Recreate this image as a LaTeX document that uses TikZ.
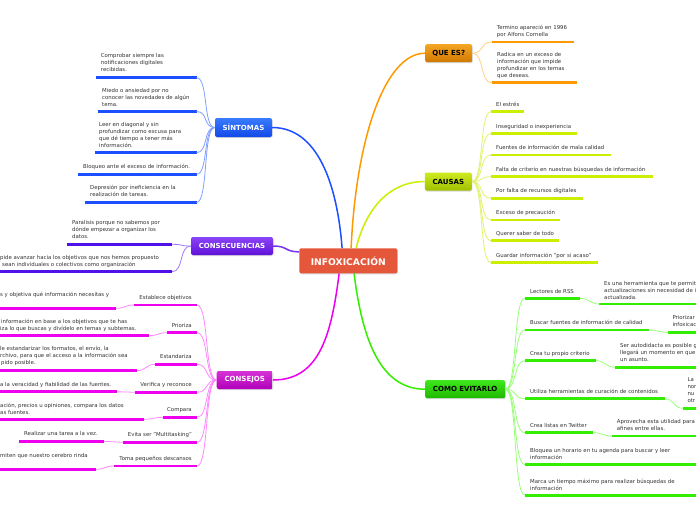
\documentclass[tikz,border=0pt]{standalone}
\usepackage{fontspec}
\setmainfont{DejaVu Sans}
\usetikzlibrary{calc,shadows}
\definecolor{txt}{HTML}{333333}
\definecolor{cC}{HTML}{E5573B}
\definecolor{oT}{HTML}{F5A623}\definecolor{oB}{HTML}{D07800}
\definecolor{yT}{HTML}{CFEA20}\definecolor{yB}{HTML}{A0C000}
\definecolor{gT}{HTML}{3EE81E}\definecolor{gB}{HTML}{1FB800}
\definecolor{bT}{HTML}{3A7BFF}\definecolor{bB}{HTML}{1148E8}
\definecolor{pT}{HTML}{8A45F7}\definecolor{pB}{HTML}{6010D8}
\definecolor{mT}{HTML}{D633D6}\definecolor{mB}{HTML}{B000B8}
\definecolor{lO}{HTML}{FF9900}\definecolor{lY}{HTML}{CCEE00}
\definecolor{lG}{HTML}{33EE00}\definecolor{lB}{HTML}{1C4FFF}
\definecolor{lP}{HTML}{5010E8}\definecolor{lM}{HTML}{EE00EE}
\definecolor{sO}{HTML}{FFD080}\definecolor{sY}{HTML}{E2F270}
\definecolor{sG}{HTML}{99FF77}\definecolor{sB}{HTML}{7FA0FF}
\definecolor{sP}{HTML}{A07AFF}\definecolor{sM}{HTML}{FF88FF}
\definecolor{cP}{HTML}{7733EE}
\tikzset{
  leaftext/.style={inner sep=0pt, align=left, text depth=0pt, font=\fontsize{5.4}{7}\selectfont, text=txt},
  mainbox/.style={rounded corners=2pt, inner sep=0pt, minimum height=18pt, font=\bfseries\fontsize{7}{8}\selectfont, drop shadow={opacity=0.3, shadow xshift=0.6pt, shadow yshift=-1pt}},
  ulO/.style={line width=2.5pt, draw=lO}, ulY/.style={line width=2.5pt, draw=lY},
  ulG/.style={line width=2.5pt, draw=lG}, ulB/.style={line width=2.5pt, draw=lB},
  ulP/.style={line width=2.5pt, draw=lP}, ulM/.style={line width=2.5pt, draw=lM},
  subO/.style={draw=sO, line width=0.8pt}, subY/.style={draw=sY, line width=0.8pt},
  subG/.style={draw=sG, line width=0.8pt}, subB/.style={draw=sB, line width=0.8pt},
  subP/.style={draw=sP, line width=0.8pt}, subM/.style={draw=sM, line width=0.8pt},
  branch/.style={line width=1.5pt}
}
% name, xl, xr, y, style, textx, dy, text
\newcommand{\lf}[8]{%
  \coordinate (#1-l) at (#2,#4);
  \coordinate (#1-r) at (#3,#4);
  \draw[#5] (#1-l) -- (#1-r);
  \node[leaftext, anchor=south west] (#1) at (#6,#4-#7) {#8};
}
% right-aligned label: name, xl, xr, y, style, textright, dy, text
\newcommand{\lfr}[8]{%
  \coordinate (#1-l) at (#2,#4);
  \coordinate (#1-r) at (#3,#4);
  \draw[#5] (#1-l) -- (#1-r);
  \node[leaftext, anchor=south east] (#1) at (#6,#4-#7) {#8};
}
\begin{document}
\begin{tikzpicture}[x=1pt,y=-1pt]
\useasboundingbox (0,0) rectangle (696,520);
\fill[white] (0,0) rectangle (696,520);
\clip (0,0) rectangle (696,520);

% main nodes
\node[mainbox, fill=cC, text=white, minimum width=98pt, minimum height=25pt, font=\bfseries\fontsize{9.2}{10}\selectfont] (c) at (348.3,260.8) {INFOXICACIÓN};
\node[mainbox, top color=oT, bottom color=oB, text=black, minimum width=47pt] (que) at (448.7,53.2) {QUE ES?};
\node[mainbox, top color=yT, bottom color=yB, text=black, minimum width=47pt] (causas) at (448.3,181.5) {CAUSAS};
\node[mainbox, top color=gT, bottom color=gB, text=black, minimum width=80pt] (evit) at (465.2,389.2) {COMO EVITARLO};
\node[mainbox, top color=bT, bottom color=bB, text=white, minimum width=57pt, minimum height=19pt] (sint) at (243.5,127.5) {SÍNTOMAS};
\node[mainbox, top color=pT, bottom color=pB, text=white, minimum width=82pt] (consec) at (232,246) {CONSECUENCIAS};
\node[mainbox, top color=mT, bottom color=mB, text=white, minimum width=56pt] (consejos) at (244.7,380) {CONSEJOS};

% main branches
\draw[branch, draw=lB] ($(c.north west)+(43,0)$) .. controls +(-5,-65) and +(45,0) .. (sint.east);
\draw[branch, draw=lO] ($(c.north west)+(52,0)$) .. controls +(5,-110) and +(-40,0) .. (que.west);
\draw[branch, draw=lY] ($(c.north west)+(57,0)$) .. controls +(10,-40) and +(-35,0) .. (causas.west);
\draw[branch, draw=lG] ($(c.south west)+(55,0)$) .. controls +(8,65) and +(-45,0) .. (evit.west);
\draw[branch, draw=lM] ($(c.south west)+(40,0)$) .. controls +(-8,65) and +(45,0) .. (consejos.east);
\draw[branch, draw=cP] ($(c.west)+(0,-9)$) .. controls +(-15,0) and +(15,0) .. (consec.east);

% SINTOMAS
\lf{s1}{96}{196.5}{77.7}{ulB}{100.7}{5.8}{Comprobar siempre las\\notificaciones digitales\\recibidas.}
\lf{s2}{97.5}{196.5}{111.5}{ulB}{102}{5.3}{Miedo o ansiedad por no\\conocer las novedades de algún\\tema.}
\lf{s3}{95}{196.5}{152.7}{ulB}{99}{4.8}{Leer en diagonal y sin\\profundizar como excusa para\\que dé tiempo a tener más\\información.}
\lf{s4}{77.5}{196.5}{174.3}{ulB}{83}{5.3}{Bloqueo ante el exceso de información.}
\lf{s5}{85}{196.5}{202.5}{ulB}{90}{5.8}{Depresión por ineficiencia en la\\realización de tareas.}
\foreach \n in {s1,s2,s3,s4,s5} \draw[subB] (sint.west) .. controls +(-12,0) and +(12,0) .. (\n-r);

% CONSECUENCIAS
\lf{c1}{67}{172}{244.3}{ulP}{72}{5.8}{Paralisis porque no sabemos por\\dónde empezar a organizar los\\datos.}
\lf{c2}{-10}{172}{271.7}{ulP}{0}{5.3}{pide avanzar hacia los objetivos que nos hemos propuesto\\\hspace{2pt}sean individuales o colectivos como organización}
\foreach \n in {c1,c2} \draw[subP] (consec.west) .. controls +(-12,0) and +(12,0) .. (\n-r);

% CONSEJOS
\lfr{k1}{134}{197}{305}{ulM}{192}{5.3}{Establece objetivos}
\lfr{k2}{167}{197}{332.7}{ulM}{192}{5.3}{Prioriza}
\lfr{k3}{155}{197}{364.3}{ulM}{192}{5.3}{Estandariza}
\lfr{k4}{135}{197}{392.3}{ulM}{192}{5.3}{Verifica y reconoce}
\lfr{k5}{163}{197}{417.3}{ulM}{192}{5.3}{Compara}
\lfr{k6}{123}{197}{442.3}{ulM}{192}{5.3}{Evita ser "Multitasking"}
\lfr{k7}{114}{197}{466}{ulM}{192}{5.3}{Toma pequeños descansos}
\foreach \n in {k1,k2,k3,k4,k5,k6,k7} \draw[subM] (consejos.west) .. controls +(-12,0) and +(12,0) .. (\n-r);

\lf{d1}{-10}{116}{308.3}{ulM}{0}{11.8}{s y objetiva qué información necesitas y}
\lf{d2}{-10}{149}{335.7}{ulM}{0}{5.2}{\hspace{1pt}información en base a los objetivos que te has\\iza lo que buscas y divídelo en temas y subtemas.}
\lf{d3}{-10}{137}{370.7}{ulM}{0}{6}{le estandarizar los formatos, el envío, la\\rchivo, para que el acceso a la información sea\\\hspace{1pt}pido posible.}
\lf{d4}{-10}{117}{391.7}{ulM}{0}{5.2}{a la veracidad y fiabilidad de las fuentes.}
\lf{d5}{-10}{144}{419.3}{ulM}{0}{5.1}{ación, precios u opiniones, compara los datos\\as fuentes.}
\lf{d6}{19}{104}{441.3}{ulM}{24}{5.8}{Realizar una tarea a la vez.}
\lf{d7}{-10}{96}{469.3}{ulM}{0}{12.1}{miten que nuestro cerebro rinda}
\draw[subM] (k1-l) .. controls +(-9,0) and +(9,0) .. (d1-r);
\draw[subM] (k2-l) .. controls +(-9,0) and +(9,0) .. (d2-r);
\draw[subM] (k3-l) .. controls +(-9,0) and +(9,0) .. (d3-r);
\draw[subM] (k4-l) .. controls +(-9,0) and +(9,0) .. (d4-r);
\draw[subM] (k5-l) .. controls +(-9,0) and +(9,0) .. (d5-r);
\draw[subM] (k6-l) .. controls +(-9,0) and +(9,0) .. (d6-r);
\draw[subM] (k7-l) .. controls +(-9,0) and +(9,0) .. (d7-r);

% QUE ES
\lf{q1}{491.7}{574}{42}{ulO}{496.7}{5.5}{Termino apareció en 1996\\por Alfons Cornella}
\lf{q2}{491.7}{576.7}{82.7}{ulO}{497}{5}{Radica en un exceso de\\información que impide\\profundizar en los temas\\que deseas.}
\foreach \n in {q1,q2} \draw[subO] (que.east) .. controls +(12,0) and +(-12,0) .. (\n-l);

% CAUSAS
\lf{ca1}{491}{524.3}{111.7}{ulY}{496}{5.2}{El estrés}
\lf{ca2}{491}{577.3}{133.7}{ulY}{496}{5.2}{Inseguridad o inexperiencia}
\lf{ca3}{491}{611}{155}{ulY}{496}{5.2}{Fuentes de información de mala calidad}
\lf{ca4}{491}{652.7}{176.7}{ulY}{496}{5.2}{Falta de criterio en nuestras búsquedas de información}
\lf{ca5}{491}{582.7}{198.3}{ulY}{496}{5.2}{Por falta de recursos digitales}
\lf{ca6}{491}{560}{220}{ulY}{496}{5.2}{Exceso de precaución}
\lf{ca7}{491}{559.3}{240.7}{ulY}{496}{5.2}{Querer saber de todo}
\lf{ca8}{491}{597.7}{262.7}{ulY}{496}{5.2}{Guardar información "por si acaso"}
\foreach \n in {ca1,ca2,ca3,ca4,ca5,ca6,ca7,ca8} \draw[subY] (causas.east) .. controls +(12,0) and +(-12,0) .. (\n-l);

% COMO EVITARLO
\lf{e1}{525}{580}{298.3}{ulG}{530}{4.8}{Lectores de RSS}
\lf{e2}{525}{649}{330}{ulG}{530}{5.6}{Buscar fuentes de información de calidad}
\lf{e3}{525}{596}{360.7}{ulG}{530}{5.2}{Crea tu propio criterio}
\lf{e4}{525}{665}{398.7}{ulG}{530}{5.2}{Utiliza herramientas de curación de contenidos}
\lf{e5}{525}{593.3}{432.7}{ulG}{530}{5.5}{Crea listas en Twitter}
\lf{e6}{525}{720}{464.7}{ulG}{530}{5.5}{Bloquea un horario en tu agenda para buscar y leer\\información}
\lf{e7}{525}{720}{495.3}{ulG}{530}{4.8}{Marca un tiempo máximo para realizar búsquedas de\\información}
\foreach \n in {e1,e2,e3,e4,e5,e6,e7} \draw[subG] (evit.east) .. controls +(12,0) and +(-12,0) .. (\n-l);

\lf{f1}{599.3}{720}{304}{ulG}{604}{4.5}{Es una herramienta que te permite\\actualizaciones sin necesidad de ir\\actualizada.}
\lf{f2}{667.7}{720}{332.3}{ulG}{672.3}{5.8}{Priorizar\\infoxicación}
\lf{f3}{615}{720}{367.3}{ulG}{620}{5.8}{Ser autodidacta es posible gracias\\llegará un momento en que\\un asunto.}
\lf{f4}{682.7}{720}{408.3}{ulG}{687.3}{5.8}{La\\nor\\nu\\otr}
\lf{f5}{611.7}{720}{436}{ulG}{616.7}{5.5}{Aprovecha esta utilidad para\\afines entre ellas.}
\draw[subG] (e1-r) .. controls +(9,0) and +(-9,0) .. (f1-l);
\draw[subG] (e2-r) .. controls +(9,0) and +(-9,0) .. (f2-l);
\draw[subG] (e3-r) .. controls +(9,0) and +(-9,0) .. (f3-l);
\draw[subG] (e4-r) .. controls +(9,0) and +(-9,0) .. (f4-l);
\draw[subG] (e5-r) .. controls +(9,0) and +(-9,0) .. (f5-l);
\end{tikzpicture}
\end{document}
